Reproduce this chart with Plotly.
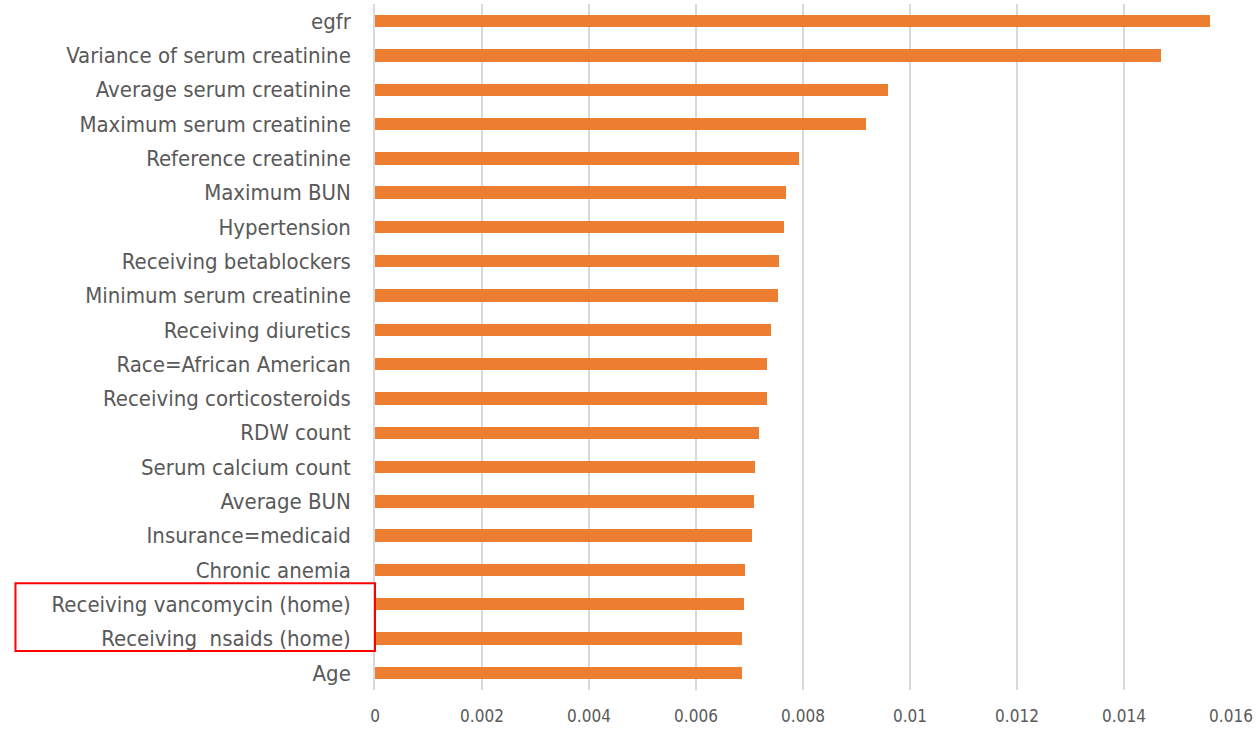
import plotly.graph_objects as go

features = [
    "egfr",
    "Variance of serum creatinine",
    "Average serum creatinine",
    "Maximum serum creatinine",
    "Reference creatinine",
    "Maximum BUN",
    "Hypertension",
    "Receiving betablockers",
    "Minimum serum creatinine",
    "Receiving diuretics",
    "Race=African American",
    "Receiving corticosteroids",
    "RDW count",
    "Serum calcium count",
    "Average BUN",
    "Insurance=medicaid",
    "Chronic anemia",
    "Receiving vancomycin (home)",
    "Receiving  nsaids (home)",
    "Age",
]
importance = [
    0.01561, 0.01470, 0.00958, 0.00917, 0.00792, 0.00768, 0.00764, 0.00755,
    0.00753, 0.00740, 0.00733, 0.00733, 0.00718, 0.00710, 0.00708, 0.00705,
    0.00692, 0.00690, 0.00686, 0.00686,
]
x_ticks = [0, 0.002, 0.004, 0.006, 0.008, 0.01, 0.012, 0.014, 0.016]
x_tick_text = ["0", "0.002", "0.004", "0.006", "0.008", "0.01", "0.012", "0.014", "0.016"]
highlighted = ["Receiving vancomycin (home)", "Receiving  nsaids (home)"]

n = len(features)
idx = list(range(n))

fig = go.Figure(
    go.Bar(
        x=importance,
        y=idx,
        orientation="h",
        width=0.36,
        marker=dict(color="#ED7D31", line=dict(width=0)),
        hoverinfo="x+text",
        hovertext=features,
    )
)

font_family = "Liberation Sans Narrow, Arial Narrow, DejaVu Sans Condensed, sans-serif"

fig.update_layout(
    width=1257,
    height=736,
    margin=dict(l=375, r=22, t=4, b=46),
    plot_bgcolor="white",
    paper_bgcolor="white",
    showlegend=False,
    font=dict(family=font_family, color="#595959"),
    bargap=0.0,
)
fig.update_xaxes(
    range=[0, 0.016],
    tickvals=x_ticks,
    ticktext=x_tick_text,
    showgrid=True,
    gridcolor="#D9D9D9",
    gridwidth=1.5,
    zeroline=False,
    showline=False,
    ticks="",
    tickfont=dict(size=17, color="#595959"),
    ticklabelstandoff=14,
)
fig.update_yaxes(
    range=[n - 0.5, -0.5],
    tickvals=idx,
    ticktext=features,
    showgrid=False,
    zeroline=False,
    showline=True,
    linecolor="#D9D9D9",
    linewidth=1.5,
    ticks="",
    tickfont=dict(size=22, color="#595959"),
    ticklabelstandoff=18,
)

i0 = features.index(highlighted[0])
i1 = features.index(highlighted[1])
fig.add_shape(
    type="rect",
    xref="paper",
    yref="y",
    x0=-0.42,
    x1=0.0,
    y0=i0 - 0.61,
    y1=i1 + 0.36,
    line=dict(color="#FF0000", width=2),
    fillcolor="rgba(0,0,0,0)",
)

fig.write_html(
    "out.html",
    config={"displayModeBar": False},
    post_script="document.body.style.margin='0';document.body.style.overflow='hidden';",
)
